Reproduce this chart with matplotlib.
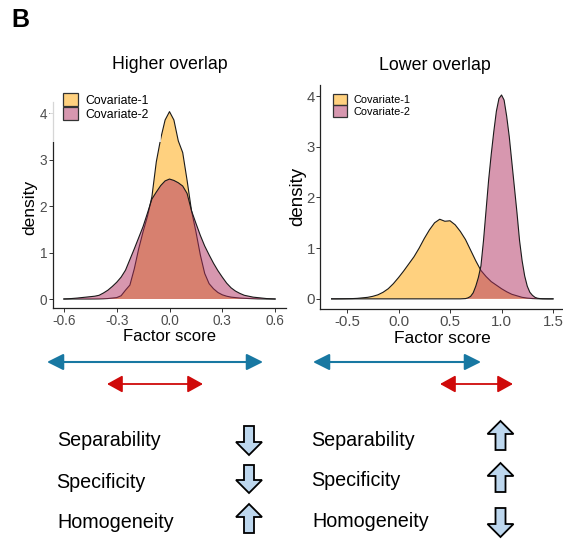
import matplotlib
matplotlib.use("Agg")
import matplotlib.pyplot as plt
from matplotlib.patches import Patch, Rectangle, Polygon, FancyArrowPatch
from matplotlib.colors import to_rgba

plt.rcParams['font.family'] = ['Liberation Sans', 'DejaVu Sans']

# ---------------- data ----------------
groups = ["Covariate-1", "Covariate-2"]

# Higher overlap panel: kernel density estimates of the factor score
hi_x1 = [-0.60, -0.50, -0.45, -0.40, -0.375, -0.35, -0.325, -0.30, -0.275, -0.25,
         -0.225, -0.20, -0.175, -0.15, -0.125, -0.10, -0.075, -0.05, -0.025, 0.00,
         0.025, 0.05, 0.075, 0.10, 0.125, 0.15, 0.175, 0.20, 0.225, 0.25,
         0.275, 0.30, 0.325, 0.35, 0.375, 0.40, 0.45, 0.50, 0.55, 0.60]
hi_c1 = [0.0, 0.0, 0.0, 0.002, 0.005, 0.01, 0.02, 0.03, 0.07, 0.19,
         0.30, 0.65, 1.08, 1.45, 1.78, 2.20, 2.95, 3.45, 3.85, 4.03,
         3.85, 3.40, 3.15, 2.55, 1.90, 1.45, 0.95, 0.55, 0.33, 0.22,
         0.14, 0.09, 0.06, 0.04, 0.03, 0.02, 0.01, 0.003, 0.0, 0.0]

hi_x2 = [-0.600, -0.575, -0.550, -0.525, -0.500, -0.475, -0.450, -0.425, -0.400, -0.375,
         -0.350, -0.325, -0.300, -0.275, -0.250, -0.225, -0.200, -0.175, -0.150, -0.125,
         -0.100, -0.075, -0.050, -0.025, 0.000, 0.025, 0.050, 0.075, 0.100, 0.125,
         0.150, 0.175, 0.200, 0.225, 0.250, 0.275, 0.300, 0.325, 0.350, 0.375,
         0.400, 0.425, 0.450, 0.475, 0.500, 0.525, 0.550, 0.575, 0.600]
hi_c2 = [0.0, 0.005, 0.012, 0.02, 0.03, 0.04, 0.05, 0.06, 0.08, 0.13,
         0.19, 0.27, 0.36, 0.47, 0.62, 0.85, 1.08, 1.32, 1.56, 1.85,
         2.15, 2.30, 2.44, 2.54, 2.58, 2.55, 2.50, 2.43, 2.27, 1.90,
         1.63, 1.37, 1.14, 0.95, 0.77, 0.61, 0.47, 0.34, 0.24, 0.17,
         0.12, 0.08, 0.06, 0.04, 0.03, 0.02, 0.01, 0.005, 0.0]

# Lower overlap panel
lo_x1 = [-0.65, -0.60, -0.55, -0.50, -0.45, -0.40, -0.35, -0.30, -0.25, -0.20,
         -0.15, -0.10, -0.05, 0.00, 0.05, 0.10, 0.15, 0.20, 0.25, 0.30,
         0.35, 0.40, 0.45, 0.50, 0.55, 0.60, 0.65, 0.70, 0.75, 0.80,
         0.85, 0.90, 0.95, 1.00, 1.05, 1.10, 1.15, 1.20, 1.25, 1.30,
         1.35, 1.40, 1.45, 1.50]
lo_c1 = [0.0, 0.0, 0.001, 0.003, 0.005, 0.01, 0.02, 0.03, 0.05, 0.08,
         0.13, 0.20, 0.30, 0.42, 0.55, 0.69, 0.83, 1.00, 1.19, 1.36,
         1.50, 1.57, 1.53, 1.54, 1.46, 1.33, 1.17, 0.96, 0.75, 0.56,
         0.44, 0.34, 0.27, 0.20, 0.14, 0.09, 0.06, 0.03, 0.015, 0.006,
         0.002, 0.0, 0.0, 0.0]

lo_x2 = [-0.65, 0.00, 0.50, 0.60, 0.65, 0.675, 0.70, 0.725, 0.75, 0.775,
         0.80, 0.825, 0.85, 0.875, 0.90, 0.925, 0.95, 0.975, 1.00, 1.025,
         1.05, 1.075, 1.10, 1.125, 1.15, 1.175, 1.20, 1.225, 1.25, 1.275,
         1.30, 1.325, 1.35, 1.375, 1.40, 1.45, 1.50]
lo_c2 = [0.0, 0.0, 0.0, 0.0, 0.005, 0.02, 0.05, 0.12, 0.25, 0.42,
         0.65, 1.15, 1.75, 2.35, 2.85, 3.30, 3.70, 3.95, 4.02, 3.92,
         3.60, 3.20, 2.70, 2.20, 1.70, 1.15, 0.75, 0.45, 0.25, 0.13,
         0.07, 0.03, 0.012, 0.005, 0.002, 0.0, 0.0]

hi_xticks = [-0.6, -0.3, 0.0, 0.3, 0.6]
hi_xlabels = ["-0.6", "-0.3", "0.0", "0.3", "0.6"]
lo_xticks = [-0.5, 0.0, 0.5, 1.0, 1.5]
lo_xlabels = ["-0.5", "0.0", "0.5", "1.0", "1.5"]
yticks = [0, 1, 2, 3, 4]

metrics = ["Separability", "Specificity", "Homogeneity"]
hi_trend = ["down", "down", "up"]
lo_trend = ["up", "up", "down"]

# ---------------- style ----------------
W, H = 563, 541
fill_c1 = to_rgba("#FFA500", 0.5)
fill_c2 = to_rgba("#B03060", 0.5)
outline = "#1a1a1a"
tick_grey = "#4d4d4d"
blue_arrow = "#1878a2"
red_arrow = "#cf0a0a"
block_fill = "#bdd7ee"


def fx(px):
    return px / W


def fy(py):
    return 1 - py / H


fig = plt.figure(figsize=(W / 100, H / 100), dpi=100)
fig.patch.set_facecolor("white")

ax1 = fig.add_axes([fx(52.8), fy(308.3), 233.4 / W, 206.3 / H])
ax2 = fig.add_axes([fx(320.5), fy(309), 243.6 / W, 224 / H])


def density_panel(ax, xa, ya, xb, yb, xlim, ylim, xt, xl, tick_fs):
    ax.fill_between(xa, 0, ya, facecolor=fill_c1, edgecolor="none", zorder=1)
    ax.plot(xa, ya, color=outline, lw=0.8, zorder=1.1)
    ax.fill_between(xb, 0, yb, facecolor=fill_c2, edgecolor="none", zorder=1.2)
    ax.plot(xb, yb, color=outline, lw=0.8, zorder=1.3)
    ax.set_xlim(*xlim)
    ax.set_ylim(*ylim)
    ax.set_xticks(xt)
    ax.set_xticklabels(xl)
    ax.set_yticks(yticks)
    for s in ("top", "right"):
        ax.spines[s].set_visible(False)
    for s in ("left", "bottom"):
        ax.spines[s].set_linewidth(0.9)
        ax.spines[s].set_color("#222222")
    ax.tick_params(length=2.6, width=0.7, color="#333333", labelcolor=tick_grey,
                   labelsize=tick_fs, pad=1.4)
    ax.set_facecolor("none")


density_panel(ax1, hi_x1, hi_c1, hi_x2, hi_c2, (-0.663, 0.663), (-0.2, 4.237),
              hi_xticks, hi_xlabels, 9.8)
density_panel(ax2, lo_x1, lo_c1, lo_x2, lo_c2, (-0.7575, 1.6075), (-0.2, 4.217),
              lo_xticks, lo_xlabels, 10.8)

# axis titles
ax1.set_xlabel("Factor score", fontsize=12, va="baseline")
ax1.xaxis.set_label_coords(0.498, -0.1585)
ax1.set_ylabel("density", fontsize=12.5, va="center")
ax1.yaxis.set_label_coords(-0.0977, 0.4886)
ax2.set_xlabel("Factor score", fontsize=12.5, va="baseline")
ax2.xaxis.set_label_coords(0.4988, -0.153)
ax2.set_ylabel("density", fontsize=13.5, va="center")
ax2.yaxis.set_label_coords(-0.0944, 0.501)

ax1.set_title("Higher overlap", fontsize=12.8, x=0.502, y=1.1585, va="baseline", pad=0)
ax2.set_title("Lower overlap", fontsize=12.8, x=0.470, y=1.067, va="baseline", pad=0)

# legends
def make_handles():
    return [Patch(facecolor=fill_c1, edgecolor="#333333", linewidth=0.9),
            Patch(facecolor=fill_c2, edgecolor="#333333", linewidth=0.9)]


veil = Rectangle((fx(50), fy(142)), (161 - 50) / W, (142 - 88) / H,
                 transform=fig.transFigure, facecolor="white", alpha=0.82,
                 edgecolor="none", zorder=4, clip_on=False)
ax1.add_patch(veil)

fs1 = 8.8
px1 = fs1 * 100 / 72
ax1.legend(make_handles(), groups, loc="upper left",
           bbox_to_anchor=(fx(63), fy(93)), bbox_transform=fig.transFigure,
           frameon=False, borderpad=0, borderaxespad=0, labelspacing=0,
           handlelength=14.5 / px1, handleheight=16 / px1,
           handletextpad=8 / px1, fontsize=fs1)

fs2 = 7.9
px2 = fs2 * 100 / 72
ax2.legend(make_handles(), groups, loc="upper left",
           bbox_to_anchor=(fx(333), fy(94)), bbox_transform=fig.transFigure,
           frameon=False, borderpad=0, borderaxespad=0, labelspacing=0,
           handlelength=14 / px2, handleheight=13.5 / px2,
           handletextpad=7 / px2, fontsize=fs2)

# panel letter
fig.text(fx(11.5), fy(26.7), "B", fontsize=18, fontweight="bold", va="baseline")


# range arrows
def range_arrow(x0, x1, y, color, lw, hl, hw):
    arr = FancyArrowPatch((fx(x0), fy(y)), (fx(x1), fy(y)),
                          transform=fig.transFigure,
                          arrowstyle=f"<|-|>,head_length={hl},head_width={hw}",
                          mutation_scale=10, color=color, lw=lw,
                          shrinkA=0, shrinkB=0)
    fig.add_artist(arr)


range_arrow(47, 263, 362, blue_arrow, 1.5, 1.0, 0.5)
range_arrow(107, 203, 384, red_arrow, 1.3, 0.94, 0.52)
range_arrow(313, 481, 362, blue_arrow, 1.5, 1.0, 0.5)
range_arrow(440, 513, 384, red_arrow, 1.3, 0.94, 0.52)


# block arrows for the qualitative trends
def block_arrow(cx, y0, y1, direction):
    half_head, half_shaft, head_len = 13, 5, 13
    if direction == "down":
        pts = [(cx - half_shaft, y0), (cx + half_shaft, y0),
               (cx + half_shaft, y1 - head_len), (cx + half_head, y1 - head_len),
               (cx, y1), (cx - half_head, y1 - head_len),
               (cx - half_shaft, y1 - head_len)]
    else:
        pts = [(cx - half_shaft, y1), (cx + half_shaft, y1),
               (cx + half_shaft, y0 + head_len), (cx + half_head, y0 + head_len),
               (cx, y0), (cx - half_head, y0 + head_len),
               (cx - half_shaft, y0 + head_len)]
    poly = Polygon([(fx(px), fy(py)) for px, py in pts], closed=True,
                   transform=fig.transFigure, facecolor=block_fill,
                   edgecolor="black", lw=1.3, joinstyle="miter")
    fig.add_artist(poly)


hi_text_pos = [(57.3, 446), (56, 488.3), (57, 527.7)]
lo_text_pos = [(310.7, 446), (311, 485.7), (312.3, 526.7)]
hi_arrow_span = [(426, 455), (465, 493), (504, 533)]
lo_arrow_span = [(421, 450), (463, 492), (508, 537)]

for name, trend, (tx, ty), (a0, a1) in zip(metrics, hi_trend, hi_text_pos, hi_arrow_span):
    fig.text(fx(tx), fy(ty), name, fontsize=14.2, va="baseline", ha="left")
    block_arrow(249, a0, a1, trend)

for name, trend, (tx, ty), (a0, a1) in zip(metrics, lo_trend, lo_text_pos, lo_arrow_span):
    fig.text(fx(tx), fy(ty), name, fontsize=14.2, va="baseline", ha="left")
    block_arrow(500.5, a0, a1, trend)

fig.savefig("out.png", dpi=100, facecolor="white")
